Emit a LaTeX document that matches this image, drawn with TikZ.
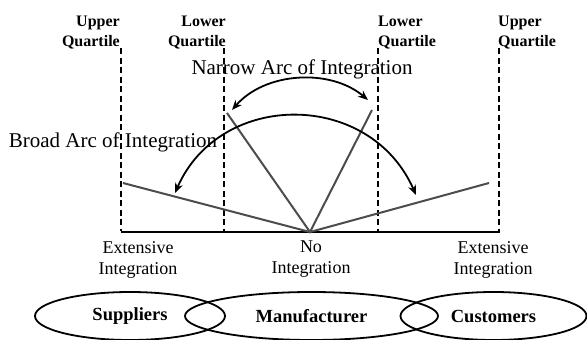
\documentclass[tikz,border=0pt]{standalone}
\usepackage{fontspec}
\setmainfont{Liberation Serif}
\usetikzlibrary{arrows.meta,shapes.geometric}

\begin{document}
\begin{tikzpicture}[x=1pt, y=-1pt,
    quartile/.style={font=\fontsize{16}{20}\selectfont\bfseries, inner sep=0pt},
    quartline/.style={line width=2.8pt, dash pattern=on 6pt off 3.5pt},
    axisline/.style={line width=1.8pt},
    ray/.style={line width=2pt, black!70},
    arcarrow/.style={line width=1.8pt,
                     {Stealth[length=10pt,width=8pt]}-{Stealth[length=10pt,width=8pt]}},
    arclabel/.style={font=\fontsize{21}{24}\selectfont, inner sep=0pt},
    extent/.style={font=\fontsize{18}{21}\selectfont, align=center, inner sep=0pt},
    party/.style={ellipse, draw, line width=1.8pt, minimum height=48pt, inner sep=0pt,
                  font=\fontsize{18.5}{20}\selectfont\bfseries}]
    \useasboundingbox (0,0) rectangle (587,340);

    % quartile guides
    \foreach \qx [count=\i] in {121,224,378,499} {
      \coordinate (q\i top) at (\qx,48);
      \coordinate (q\i bot) at (\qx,231);
    }
    \node[quartile, anchor=south east, align=right] (uqleft)  at (120,49) {Upper\\Quartile};
    \node[quartile, anchor=south east, align=right] (lqleft)  at (226,49) {Lower\\Quartile};
    \node[quartile, anchor=south west, align=left]  (lqright) at (378,49) {Lower\\Quartile};
    \node[quartile, anchor=south west, align=left]  (uqright) at (498,49) {Upper\\Quartile};
    \foreach \i in {1,...,4}
      \draw[quartline] (q\i top) -- (q\i bot);

    % axis and rays
    \coordinate (base west) at (121,232);
    \coordinate (base east) at (500,232);
    \coordinate (vertex)    at (310,232);
    \coordinate (lshallow)  at (123,183);
    \coordinate (rshallow)  at (489,183);
    \coordinate (lsteep)    at (227,113);
    \coordinate (rsteep)    at (372,110);
    \draw[axisline] (base west) -- (base east);
    \draw[ray] (lshallow) -- (vertex) -- (rshallow);
    \draw[ray] (lsteep) -- (vertex) -- (rsteep);

    % arcs of integration
    \coordinate (narrow west) at (232,110);
    \coordinate (narrow east) at (368,100);
    \coordinate (broad west)  at (175,193);
    \coordinate (broad east)  at (416,195);
    \draw[arcarrow] (narrow west) .. controls (265,72) and (330,68) .. (narrow east);
    \draw[arcarrow] (broad west) .. controls (220,90) and (370,90) .. (broad east);
    \node[arclabel] (narrowlbl) at (302,69)  {Narrow Arc of Integration};
    \node[arclabel] (broadlbl)  at (113,142) {Broad Arc of Integration};

    % degree of integration
    \node[extent] (extleft)  at (138,259.5) {Extensive\\Integration};
    \node[extent] (noint)    at (311,259.5) {No\\Integration};
    \node[extent] (extright) at (493,259.5) {Extensive\\Integration};

    % supply chain members
    \node[party, minimum width=190pt] (suppliers)    at (130,316)   {Suppliers};
    \node[party, minimum width=253pt] (manufacturer) at (311.5,316) {Manufacturer};
    \node[party, minimum width=186pt] (customers)    at (493.5,316) {Customers};
\end{tikzpicture}
\end{document}
